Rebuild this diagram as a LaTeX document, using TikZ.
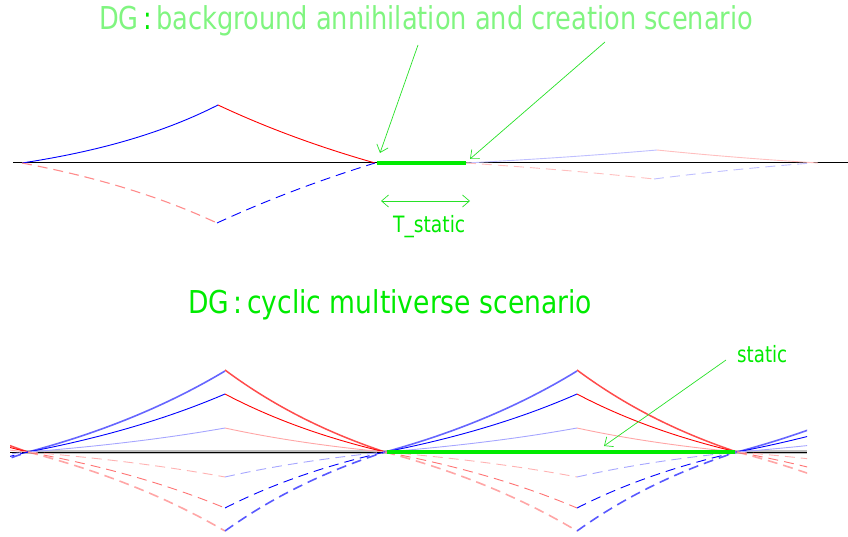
\documentclass[tikz,border=0pt]{standalone}
\usepackage{graphicx}
\usepackage{fontspec}
\setmainfont{DejaVu Sans}
\usetikzlibrary{arrows.meta}

\definecolor{dgreen}{RGB}{0,235,0}
\definecolor{lgreen}{RGB}{128,245,128}
\definecolor{agreen}{RGB}{40,225,40}

% a text box stretched to a given width, height unchanged
\newcommand\fitw[2]{\resizebox{#1}{\height}{#2}}

% rising and falling branches of a cycle: style, x0, x1, axis y, height, curvature
\newcommand\wingrise[6]{\draw[#1] plot[domain=0:1,samples=40,smooth]
  ({#2+(#3-#2)*\x},{#4-(#5)*(exp(#6*\x)-1)/(exp(#6)-1)});}
\newcommand\wingfall[6]{\draw[#1] plot[domain=0:1,samples=40,smooth]
  ({#2+(#3-#2)*\x},{#4-(#5)*(exp(#6*(1-\x))-1)/(exp(#6)-1)});}

\tikzset{
  thinln/.style={line width=0.9pt},
  dsh/.style={dash pattern=on 10pt off 6pt},
  oB/.style={blue, line width=1.6pt, opacity=0.6},
  oR/.style={red, line width=1.5pt, opacity=0.7},
  mB/.style={blue, thinln},
  mR/.style={red, thinln},
  iB/.style={blue!35, thinln},
  iR/.style={red!35, thinln},
  loOR/.style={red, line width=1.6pt, opacity=0.35, dsh},
  loOB/.style={blue, line width=1.6pt, opacity=0.65, dsh},
  loMR/.style={red!55, thinln, dsh},
  loMB/.style={blue, thinln, dsh},
  loIR/.style={red!30, thinln, dsh},
  loIB/.style={blue!35, thinln, dsh},
  axisln/.style={black, line width=1pt},
  staticln/.style={dgreen, line width=3.2pt},
  pointer/.style={agreen, line width=0.7pt, -{Straight Barb[length=7pt,width=12pt]}},
  span/.style={agreen, line width=0.7pt, {Straight Barb[length=7pt,width=12pt]}-{Straight Barb[length=7pt,width=12pt]}},
  ttl/.style={inner sep=0pt, anchor=base west, font=\fontsize{31.5}{36}\selectfont},
  lbl/.style={inner sep=0pt, anchor=base west, font=\fontsize{22.5}{26}\selectfont, text=dgreen},
}

% one full cycle of the lower panel: start, peak, end
\newcommand\dgcycle[3]{%
  \wingrise{oB}{#1}{#2}{452}{81}{0.8}
  \wingfall{oR}{#2}{#3}{452}{82}{0.8}
  \wingrise{mB}{#1}{#2}{452}{58}{0.8}
  \wingfall{mR}{#2}{#3}{452}{58}{0.8}
  \wingrise{iB}{#1}{#2}{452}{24}{0.8}
  \wingfall{iR}{#2}{#3}{452}{24}{0.8}
  \wingrise{loOR}{#1}{#2}{452}{-79}{0.8}
  \wingfall{loOB}{#2}{#3}{452}{-79}{0.8}
  \wingrise{loMR}{#1}{#2}{452}{-56}{0.8}
  \wingfall{loMB}{#2}{#3}{452}{-56}{0.8}
  \wingrise{loIR}{#1}{#2}{452}{-25}{0.8}
  \wingfall{loIB}{#2}{#3}{452}{-25}{0.8}
}

\begin{document}
\begin{tikzpicture}[x=1pt,y=-1pt]
\useasboundingbox (0,0) rectangle (848,537);

% ---------- upper panel: annihilation and creation ----------
\node[ttl] (ttlA) at (99,30) {\fitw{654pt}{\color{lgreen}DG\,{\color{dgreen}:}\,background annihilation and creation scenario}};

\draw[axisln] (13,163) -- (848,163);

\wingrise{blue, thinln}{22}{218}{163}{58}{1.2}
\wingfall{red, thinln}{218}{375}{163}{58}{0.5}
\wingrise{red!45, line width=1.1pt, dsh}{22}{217}{163}{-60}{0.9}
\wingfall{blue, thinln, dsh}{217}{375}{163}{-60}{0.4}

\wingrise{blue!25, thinln}{466}{657}{163}{13}{0.5}
\wingfall{red!25, thinln}{657}{818}{163}{13}{0.5}
\wingrise{red!25, thinln, dsh}{466}{654}{163}{-16}{0.5}
\wingfall{blue!25, thinln, dsh}{654}{812}{163}{-16}{0.5}

\coordinate (stA) at (377,163);
\coordinate (stB) at (466,163);
\draw[staticln] (stA) -- (stB);

\coordinate (p1s) at (418,45);
\coordinate (p1e) at (380,153);
\coordinate (p2s) at (605,42);
\coordinate (p2e) at (470,159);
\draw[pointer] (p1s) -- (p1e);
\draw[pointer] (p2s) -- (p2e);

\coordinate (spL) at (381,201);
\coordinate (spR) at (470,201);
\draw[span] (spL) -- (spR);
\node[lbl] (lblT) at (393,233) {\fitw{72pt}{T\_static}};

% ---------- lower panel: cyclic multiverse ----------
\node[ttl, text=dgreen] (ttlB) at (188,313) {\fitw{404pt}{DG\,:\,cyclic multiverse scenario}};

\draw[gray!50, line width=4pt] (20,452) -- (807,452);
\draw[axisln] (10,452) -- (807,452);

\begin{scope}
  \clip (10,330) rectangle (807,537);
  \dgcycle{-329}{-130}{28}
  \dgcycle{28}{225}{385}
  \dgcycle{385}{577}{737}
  \dgcycle{737}{935}{1094}
\end{scope}

\coordinate (stC) at (387,452);
\coordinate (stD) at (735,452);
\draw[staticln] (stC) -- (stD);

\node[lbl] (lblS) at (737,362) {\fitw{50pt}{static}};
\coordinate (p3s) at (726,360);
\coordinate (p3e) at (604,446);
\draw[pointer] (p3s) -- (p3e);
\end{tikzpicture}
\end{document}
